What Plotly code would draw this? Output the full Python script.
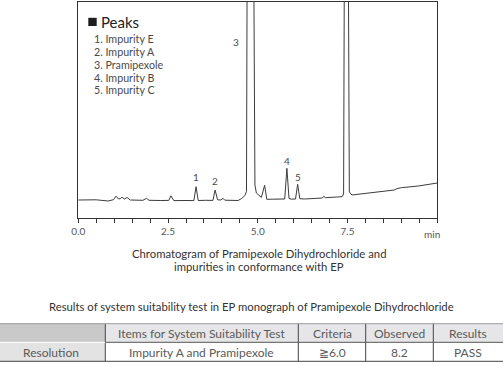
import plotly.graph_objects as go

# ---------------- data ----------------
time_min = [0.00, 0.50, 0.83, 0.98, 1.05, 1.12, 1.18, 1.22, 1.28, 1.36, 1.45, 1.80, 1.90, 1.97,
            2.30, 2.52, 2.58, 2.66, 3.00, 3.22, 3.28, 3.34, 3.55, 3.75, 3.81, 3.88, 3.97, 4.03,
            4.08, 4.30, 4.45, 4.55, 4.64, 4.685, 4.705, 4.79, 4.885, 4.92, 4.96, 5.03, 5.10,
            5.19, 5.25, 5.40, 5.70, 5.75, 5.81, 5.87, 5.94, 6.05, 6.11, 6.17, 6.30, 6.60, 6.80,
            6.84, 6.88, 7.20, 7.35, 7.39, 7.415, 7.47, 7.52, 7.55, 7.62, 8.08, 8.64, 8.80, 8.87,
            9.00, 9.47, 9.96, 10.00]
signal = [0.0, 0.2, -1.0, 0.3, 3.8, 1.0, 1.5, 3.0, 1.0, 2.5, 0.0, -0.3, 1.7, -0.3,
          -0.5, -0.4, 4.2, -0.6, -0.5, -0.6, 13.3, -0.5, -0.3, -0.4, 10.0, 0.2, 0.0, 1.7,
          -0.2, -0.8, -0.5, 1.5, 4.5, 8.5, 260, 900, 260, 15, 7, 4.5, 2.7,
          14.7, 0.7, 0.8, 0.7, 1.0, 31.7, 1.5, 0.8, 1.0, 15.7, 1.3, 1.0, 1.5, 2.0,
          3.7, 2.3, 3.0, 3.3, 6.0, 260, 900, 260, 8.0, 5.0, 6.7, 8.7, 10.0, 11.3,
          12.3, 14.0, 16.7, 17.0]

peak_numbers = ["1", "2", "3", "4", "5"]
peak_label_time = [3.28, 3.81, 4.38, 5.81, 6.11]
peak_label_value = [23.5, 19.5, 158, 39.5, 23.5]

legend_title = "Peaks"
legend_items = ["1. Impurity E", "2. Impurity A", "3. Pramipexole", "4. Impurity B", "5. Impurity C"]

tick_values = [0, 2.5, 5, 7.5, 10]
tick_labels = ["0.0", "2.5", "5.0", "7.5", ""]
unit_label = "min"

caption_lines = ["Chromatogram of Pramipexole Dihydrochloride and",
                 "impurities in conformance with EP"]
table_title = "Results of system suitability test in EP monograph of Pramipexole Dihydrochloride"
table_header = ["", "Items for System Suitability Test", "Criteria", "Observed", "Results"]
table_row = ["Resolution", "Impurity A and Pramipexole", "\u22676.0", "8.2", "PASS"]

# ---------------- layout helpers (pixel -> paper) ----------------
W, H = 503, 366
def X(px):
    return px / W
def Y(py):
    return 1 - py / H

FONT = "Lato"
TXT = "#4a4a4a"

fig = go.Figure()
fig.add_trace(go.Scatter(x=time_min, y=signal, mode="lines",
                         line=dict(color="#3c3c3c", width=1), hoverinfo="skip",
                         showlegend=False))

annotations = []
shapes = []

# peak numbers
for lab, t, v in zip(peak_numbers, peak_label_time, peak_label_value):
    annotations.append(dict(x=t, y=v, xref="x", yref="y", text=lab, showarrow=False,
                            font=dict(family=FONT, size=10, color=TXT)))

# legend block
shapes.append(dict(type="rect", xref="paper", yref="paper",
                   x0=X(88.3), x1=X(96.7), y0=Y(26), y1=Y(17.8),
                   fillcolor="#1e1e1e", line=dict(width=0)))
annotations.append(dict(x=X(98.5), y=Y(21.5), xref="paper", yref="paper", text=legend_title,
                        showarrow=False, xanchor="left", yanchor="middle",
                        font=dict(family=FONT, size=15, color="#222222")))
for i, item in enumerate(legend_items):
    annotations.append(dict(x=X(92), y=Y(38.3 + i * 12.9), xref="paper", yref="paper",
                            text=item, showarrow=False, xanchor="left", yanchor="middle",
                            font=dict(family=FONT, size=10.7, color=TXT)))

# unit label at axis end
annotations.append(dict(x=X(432), y=Y(234), xref="paper", yref="paper", text=unit_label,
                        showarrow=False, xanchor="center", yanchor="middle",
                        font=dict(family=FONT, size=10, color="#555555")))

# caption
for i, line in enumerate(caption_lines):
    annotations.append(dict(x=X(259), y=Y(253.3 + i * 13), xref="paper", yref="paper", text=line,
                            showarrow=False, xanchor="center", yanchor="middle",
                            font=dict(family=FONT, size=11.3, color="#333333")))

# table title
annotations.append(dict(x=X(252), y=Y(306.7), xref="paper", yref="paper", text=table_title,
                        showarrow=False, xanchor="center", yanchor="middle",
                        font=dict(family=FONT, size=11.3, color="#333333")))

# table
col_edges = [0, 105.3, 298.3, 365.7, 433.3, 503]
row_top, row_mid, row_bot = 323.7, 342.3, 361.3
for c in range(5):
    hdr_fill = "#c9c9c9" if c == 0 else "#e6e6e8"
    row_fill = "#e3e3e3" if c == 0 else "#ffffff"
    shapes.append(dict(type="rect", xref="paper", yref="paper", x0=X(col_edges[c]),
                       x1=X(col_edges[c + 1]), y0=Y(row_mid), y1=Y(row_top),
                       fillcolor=hdr_fill, line=dict(width=0), layer="below"))
    shapes.append(dict(type="rect", xref="paper", yref="paper", x0=X(col_edges[c]),
                       x1=X(col_edges[c + 1]), y0=Y(row_bot), y1=Y(row_mid),
                       fillcolor=row_fill, line=dict(width=0), layer="below"))
    cx = (col_edges[c] + col_edges[c + 1]) / 2
    annotations.append(dict(x=X(cx), y=Y(333.4), xref="paper", yref="paper",
                            text=table_header[c], showarrow=False, xanchor="center",
                            yanchor="middle", font=dict(family=FONT, size=12, color="#5a5a5a")))
    annotations.append(dict(x=X(cx if c else 51), y=Y(352.2), xref="paper", yref="paper",
                            text=table_row[c], showarrow=False, xanchor="center",
                            yanchor="middle", font=dict(family=FONT, size=12, color="#5a5a5a")))
for xe in col_edges[1:-1]:
    shapes.append(dict(type="line", xref="paper", yref="paper", x0=X(xe), x1=X(xe),
                       y0=Y(row_bot), y1=Y(row_top), line=dict(color="#444444", width=1)))
shapes.append(dict(type="line", xref="paper", yref="paper", x0=0, x1=1, y0=Y(row_top),
                   y1=Y(row_top), line=dict(color="#9a9a9a", width=1)))
shapes.append(dict(type="line", xref="paper", yref="paper", x0=X(col_edges[1]), x1=1,
                   y0=Y(row_mid), y1=Y(row_mid), line=dict(color="#555555", width=1)))
shapes.append(dict(type="line", xref="paper", yref="paper", x0=0, x1=X(col_edges[1]),
                   y0=Y(row_mid), y1=Y(row_mid), line=dict(color="#ffffff", width=1)))
shapes.append(dict(type="line", xref="paper", yref="paper", x0=0, x1=1, y0=Y(row_bot),
                   y1=Y(row_bot), line=dict(color="#444444", width=1)))

fig.update_layout(
    width=W, height=H, margin=dict(l=0, r=0, t=0, b=0, pad=0), autosize=False,
    paper_bgcolor="white", plot_bgcolor="white",
    showlegend=False,
    xaxis=dict(domain=[X(78.3), X(437.3)], range=[0, 10], showgrid=False, zeroline=False,
               automargin=False,
               showline=True, mirror=True, linecolor="#333333", linewidth=1,
               ticks="outside", ticklen=4, tickcolor="#333333", tickwidth=1,
               tickvals=tick_values, ticktext=tick_labels,
               minor=dict(dtick=0.5, ticks="outside", ticklen=4, tickcolor="#333333", tickwidth=1),
               tickfont=dict(family=FONT, size=10, color="#555555")),
    yaxis=dict(domain=[Y(218.3), Y(2)], range=[-18.3, 198], showgrid=False, zeroline=False,
               automargin=False,
               showline=True, mirror=True, linecolor="#333333", linewidth=1,
               showticklabels=False, ticks=""),
    annotations=annotations, shapes=shapes,
)

fig.write_html("out.html", config={"displayModeBar": False},
               post_script="document.body.style.margin='0';document.body.style.overflow='hidden';")
